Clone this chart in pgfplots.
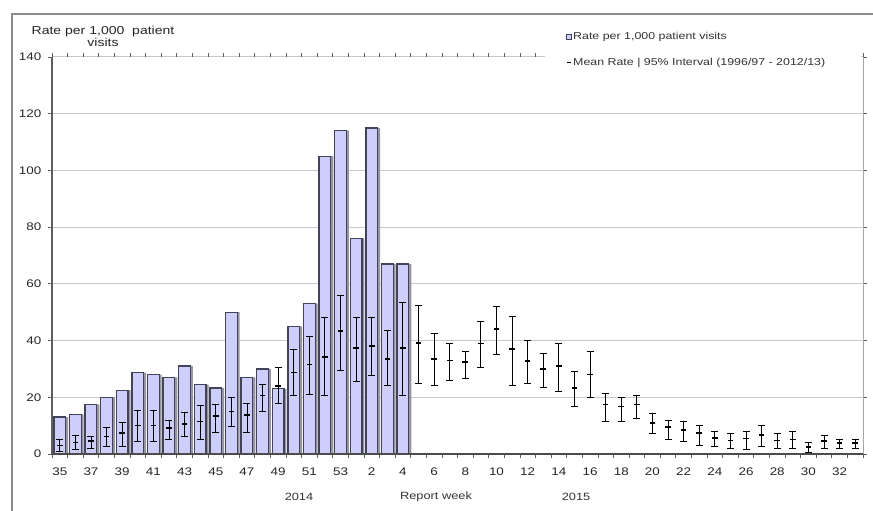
\documentclass[border=0pt]{standalone}
\usepackage{pgfplots}
\usepackage{pgfplotstable}
\pgfplotsset{compat=1.18}
\usepackage{fontspec}
\setmainfont{Liberation Sans}

\definecolor{barfill}{RGB}{206,206,250}
\definecolor{baredge}{RGB}{66,66,88}
\definecolor{barshadow}{RGB}{150,150,160}
\definecolor{gridgray}{RGB}{200,200,200}
\definecolor{framegray}{RGB}{140,140,140}
\definecolor{axisgray}{RGB}{95,95,95}

% weekly rate per 1,000 patient visits (weeks 35/2014 .. 4/2015)
\pgfplotstableread{
i  v
0  13
1  14
2  17.5
3  20
4  22.5
5  28.7
6  28
7  27
8  31
9  24.5
10 23.3
11 50
12 27
13 30
14 23
15 45
16 53
17 105
18 114
19 76
20 115
21 67
22 67
}\ratetable

% historical mean rate and 95% interval (1996/97 - 2012/13)
\pgfplotstableread{
i  m     ep    em
0  3     2     2
1  4     2.5   2.5
2  4.5   1.7   2.7
3  6.2   3     3.5
4  7.4   3.6   4.7
5  10    5.3   5.5
6  10    5.3   5.5
7  9.2   2.7   4.2
8  10.6  3.9   4.4
9  11.5  5.7   6.5
10 13.5  3.9   5.9
11 15    5     5.2
12 13.8  4.2   6.2
13 20.6  3.9   5.6
14 24    6.4   6.2
15 28.8  8.2   8.2
16 31.5  10    10.5
17 34.2  13.8  13.6
18 43.3  12.6  13.8
19 37.4  10.6  11.8
20 38    10    10.4
21 33.6  9.9   9.5
22 37.4  16.1  16.8
23 39.2  13.3  14.2
24 33.5  9     9.4
25 33    6     7
26 32.4  3.8   5.6
27 39    7.7   8.4
28 44.1  8     9.1
29 37    11.4  12.9
30 32.7  7.3   7.7
31 30    5.4   6.7
32 31    8     8.9
33 23.3  5.9   6.5
34 28    8.2   8.2
35 17.4  4.1   5.9
36 16.8  3.2   5.3
37 17.4  3.2   5
38 10.9  3.3   3.7
39 9.5   2.3   4.2
40 8.4   3.1   3.9
41 7.4   2.7   4.5
42 5.6   2.4   2.9
43 4.8   2.4   3
44 5.4   2.6   3.9
45 6.8   3.2   4.1
46 4.8   2.4   2.7
47 5.1   2.7   3
48 2.5   1.4   1.9
49 4.5   2     2.7
50 3.9   1.2   2.1
51 3.9   1.4   2.1
}\meantable

\begin{document}
\begin{tikzpicture}
\useasboundingbox (0pt,0pt) rectangle (873pt,511pt);
\fill[white] (0pt,0pt) rectangle (873pt,511pt);
% chart area frame
\draw[framegray, line width=1.5pt] (12pt,-5pt) -- (12pt,497pt) -- (880pt,497pt);

\begin{axis}[
  at={(52pt,57pt)}, anchor=south west,
  scale only axis, width=811pt, height=397pt,
  xmin=-0.5, xmax=51.5, ymin=0, ymax=140,
  axis line style={draw=none},
  ytick={0,20,...,140},
  ymajorgrids, grid style={gridgray, line width=1pt},
  xtick={0,2,...,50},
  xticklabels={35,37,39,41,43,45,47,49,51,53,2,4,6,8,10,12,14,16,18,20,22,24,26,28,30,32},
  minor xtick={-0.5,0.5,...,51.5},
  tick align=outside,
  xtick style={draw=none},
  minor x tick style={draw=axisgray, line width=0.7pt},
  minor tick length=4pt,
  ytick style={draw=axisgray, line width=0.8pt},
  major tick length=4pt,
  /pgf/number format/assume math mode=true,
  ticklabel style={font=\fontsize{11}{13}\selectfont, text=black!85, xscale=1.22},
  xticklabel style={yshift=-6pt},
  yticklabel style={xshift=-2pt},
  legend style={at={(0.630,1.070)}, anchor=north west, draw=none, fill=none,
    font=\fontsize{10}{12}\selectfont, text=black!80, row sep=15pt,
    nodes={xscale=1.24, inner sep=1pt}},
  legend cell align=left,
  clip=false,
]
% bar shadows
\addplot[ybar, bar width=0.75, bar shift=0.16, fill=barshadow, draw=none, forget plot]
  table[x=i, y=v] {\ratetable};
% weekly rate
\addplot[ybar, bar width=0.75, bar shift=0, fill=barfill, draw=baredge, line width=1.3pt,
  legend image code/.code={\draw[baredge, fill=barfill, line width=0.8pt] (0pt,-2.8pt) rectangle (5pt,2.8pt);}]
  table[x=i, y=v] {\ratetable};
\addlegendentry{Rate per 1,000 patient visits}
% mean rate with 95% interval
\addplot[black, only marks, mark=-, mark size=2.8pt, mark options={line width=1.6pt},
  legend image code/.code={\draw[black, line width=1pt] (0.5pt,0pt) -- (4.5pt,0pt);},
  error bars/.cd, y dir=both, y explicit,
  error mark=-, error mark options={rotate=90, black, mark size=3.5pt, line width=0.9pt},
  error bar style={black, line width=0.9pt}]
  table[x=i, y=m, y error plus=ep, y error minus=em] {\meantable};
\addlegendentry{Mean Rate | 95\% Interval (1996/97 - 2012/13)}
% legend area background over the top gridline
\fill[white] (axis description cs:0.608,0.955) rectangle (axis description cs:0.9975,1.085);
% plot area borders
\draw[gray!70, line width=1pt] (rel axis cs:1,0) -- (rel axis cs:1,1);
\draw[axisgray, line width=1.2pt] (rel axis cs:0,0) -- (rel axis cs:0,1);
\draw[axisgray!80!black, line width=1.4pt] (rel axis cs:0,0) -- (rel axis cs:1,0);
\end{axis}

% value axis title
\node[align=center, font=\fontsize{11.5}{12}\selectfont, text=black!85, xscale=1.22]
  at (103pt,475pt) {Rate per 1,000\ \ patient\\visits};
% time axis annotations
\begin{scope}[every node/.style={font=\fontsize{10.5}{12}\selectfont, text=black!80, xscale=1.22}]
\node at (299pt,14pt) {2014};
\node at (436pt,14pt) {Report week};
\node at (576pt,14pt) {2015};
\end{scope}
\end{tikzpicture}
\end{document}
